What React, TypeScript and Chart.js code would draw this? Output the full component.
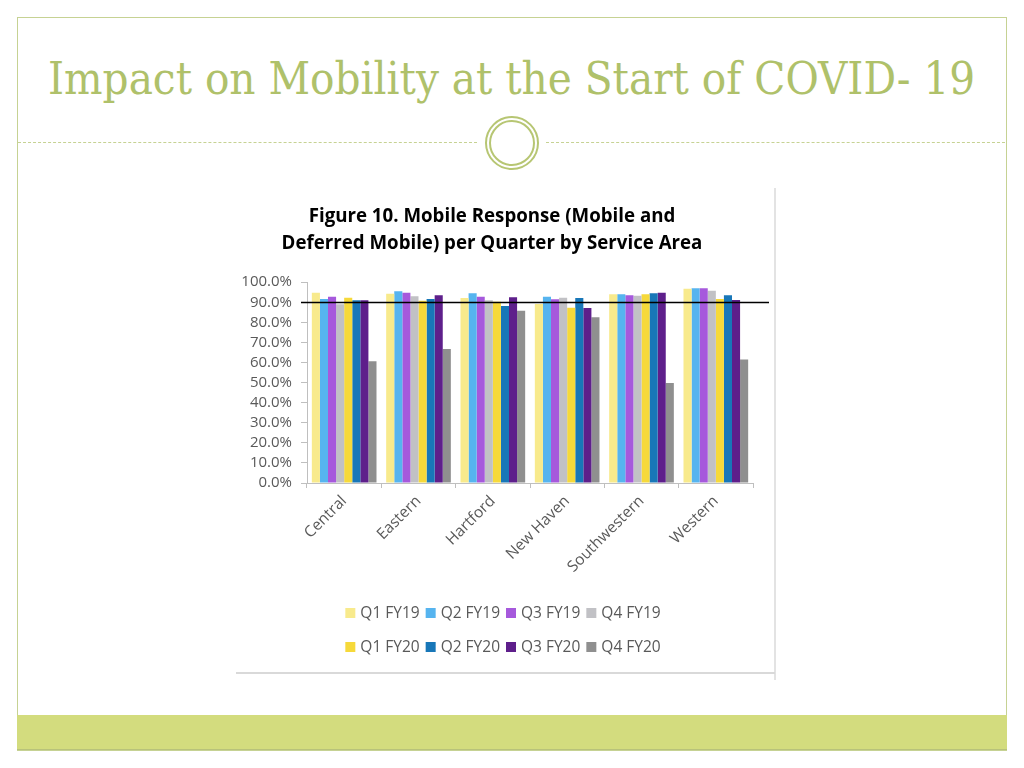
import React, { useEffect, useRef, useLayoutEffect } from "react";
import { Chart, registerables } from "chart.js";

Chart.register(...registerables);

const categories = ["Central", "Eastern", "Hartford", "New Haven", "Southwestern", "Western"];
const seriesLabels = ["Q1 FY19", "Q2 FY19", "Q3 FY19", "Q4 FY19", "Q1 FY20", "Q2 FY20", "Q3 FY20", "Q4 FY20"];
const q1fy19 = [94.8, 94.2, 92.2, 89.2, 94.0, 96.7];
const q2fy19 = [91.7, 95.5, 94.5, 92.8, 94.0, 97.0];
const q3fy19 = [92.8, 94.8, 92.8, 91.5, 93.5, 97.0];
const q4fy19 = [89.0, 93.0, 91.0, 92.3, 93.3, 95.7];
const q1fy20 = [92.3, 90.8, 90.3, 87.3, 94.0, 91.7];
const q2fy20 = [91.0, 91.7, 88.2, 92.2, 94.5, 93.5];
const q3fy20 = [91.0, 93.5, 92.5, 87.2, 94.8, 91.2];
const q4fy20 = [60.7, 66.8, 85.8, 82.5, 49.8, 61.5];
const targetValue = 90;
const seriesColors = ["#f8ea8c", "#56b4ef", "#a659dc", "#c1c1c5", "#f6d93a", "#1877b8", "#5e1f8b", "#8f8f8f"];
const chartTitle = ["Figure 10. Mobile Response (Mobile and", "Deferred Mobile) per Quarter by Service Area"];
const slideTitle = "Impact on Mobility at the Start of COVID- 19";

const FONT = "'Open Sans', 'Noto Sans', sans-serif";

const targetLinePlugin = {
  id: "targetLine",
  afterDatasetsDraw(chart: any) {
    const { ctx, chartArea, scales } = chart;
    const y = Math.round(scales.y.getPixelForValue(targetValue)) + 0.5;
    ctx.save();
    ctx.strokeStyle = "#000000";
    ctx.lineWidth = 1.5;
    ctx.beginPath();
    ctx.moveTo(chartArea.left - 6, y);
    ctx.lineTo(chartArea.right + 16, y);
    ctx.stroke();
    ctx.restore();
  },
};

const customLegendPlugin = {
  id: "customLegend",
  afterDraw(chart: any) {
    const { ctx, width } = chart;
    const ds = chart.data.datasets;
    ctx.save();
    ctx.font = `15.5px ${FONT}`;
    ctx.textBaseline = "middle";
    const rows = [ds.slice(0, 4), ds.slice(4, 8)];
    const rowY = [425, 459];
    const box = 10;
    const gapBox = 5;
    const gapItem = 6;
    rows.forEach((row: any[], ri: number) => {
      const widths = row.map((d) => box + gapBox + ctx.measureText(d.label).width);
      const total = widths.reduce((a, b) => a + b, 0) + gapItem * (row.length - 1);
      let x = width / 2 - total / 2;
      row.forEach((d, i) => {
        ctx.fillStyle = d.backgroundColor;
        ctx.fillRect(x, rowY[ri] - box / 2, box, box);
        ctx.fillStyle = "#595959";
        ctx.fillText(d.label, x + box + gapBox, rowY[ri] + 1);
        x += widths[i] + gapItem;
      });
    });
    ctx.restore();
  },
};

function BarChart() {
  const ref = useRef<HTMLCanvasElement>(null);
  useEffect(() => {
    const values = [q1fy19, q2fy19, q3fy19, q4fy19, q1fy20, q2fy20, q3fy20, q4fy20];
    const chart = new Chart(ref.current as HTMLCanvasElement, {
      type: "bar",
      data: {
        labels: categories,
        datasets: values.map((v, i) => ({
          label: seriesLabels[i],
          data: v,
          backgroundColor: seriesColors[i],
          borderWidth: 0,
          categoryPercentage: 0.87,
          barPercentage: 1.0,
        })),
      },
      options: {
        animation: false,
        responsive: false,
        maintainAspectRatio: false,
        layout: { padding: { top: 0, left: 0, right: 22, bottom: 90 } },
        plugins: {
          legend: { display: false },
          tooltip: { enabled: false },
          title: {
            display: true,
            text: chartTitle,
            color: "#000000",
            font: { family: FONT, size: 18.7, weight: "bold", lineHeight: 1.45 },
            padding: { top: 15, bottom: 25 },
          },
        },
        scales: {
          x: {
            grid: { display: true, drawOnChartArea: false, drawTicks: true, tickLength: 5, color: "#bfbfbf" },
            border: { display: true, color: "#bfbfbf" },
            ticks: {
              color: "#595959",
              font: { family: FONT, size: 15.5 },
              minRotation: 45,
              maxRotation: 45,
              padding: 4,
            },
            afterFit: (s: any) => {
              s.height = 100;
            },
          },
          y: {
            min: 0,
            max: 100,
            grid: { display: true, drawOnChartArea: false, drawTicks: true, tickLength: 6, color: "#bfbfbf" },
            border: { display: true, color: "#bfbfbf" },
            ticks: {
              stepSize: 10,
              autoSkip: false,
              color: "#595959",
              font: { family: FONT, size: 15, lineHeight: 1 },
              padding: 9,
              callback: (v: any) => Number(v).toFixed(1) + "%",
            },
            afterFit: (s: any) => {
              s.width = 76;
            },
          },
        },
      },
      plugins: [targetLinePlugin, customLegendPlugin],
    });
    return () => chart.destroy();
  }, []);
  return <canvas ref={ref} width={544} height={485} style={{ display: "block", width: 544, height: 485 }} />;
}

export default function App() {
  const titleRef = useRef<HTMLSpanElement>(null);
  useLayoutEffect(() => {
    const el = titleRef.current;
    if (el) {
      const w = el.offsetWidth;
      if (w > 0) el.style.transform = `scaleX(${927 / w})`;
    }
  }, []);
  const green = "#c6d293";
  return (
    <div style={{ position: "fixed", left: 0, top: 0, width: 1024, height: 768, background: "#ffffff", overflow: "hidden" }}>
      <div style={{ position: "absolute", left: 17, top: 17, width: 988, height: 732, border: `1px solid ${green}` }} />
      <div style={{ position: "absolute", left: 48, top: 49, width: 927, height: 60, whiteSpace: "nowrap" }}>
        <span
          ref={titleRef}
          style={{
            display: "inline-block",
            transformOrigin: "left top",
            fontFamily: "'DejaVu Serif Condensed', 'DejaVu Serif', serif",
            fontStretch: "condensed",
            fontSize: 45,
            lineHeight: "60px",
            color: "#afc16a",
          }}
        >
          {slideTitle}
        </span>
      </div>
      <div style={{ position: "absolute", left: 18, top: 142, width: 459, height: 0, borderTop: `1px dashed ${green}` }} />
      <div style={{ position: "absolute", left: 546, top: 142, width: 459, height: 0, borderTop: `1px dashed ${green}` }} />
      <div
        style={{
          position: "absolute",
          left: 485,
          top: 116,
          width: 50,
          height: 50,
          borderRadius: "50%",
          border: "2px solid #b7c673",
          background: "#ffffff",
        }}
      />
      <div
        style={{
          position: "absolute",
          left: 489,
          top: 120,
          width: 42,
          height: 42,
          borderRadius: "50%",
          border: "2px solid #b7c673",
        }}
      />
      <div style={{ position: "absolute", left: 231, top: 188 }}>
        <BarChart />
      </div>
      <div style={{ position: "absolute", left: 774, top: 188, width: 2, height: 492, background: "#e3e3e3" }} />
      <div style={{ position: "absolute", left: 236, top: 672, width: 539, height: 2, background: "#d9d9d9" }} />
      <div
        style={{
          position: "absolute",
          left: 17,
          top: 715,
          width: 990,
          height: 35,
          background: "#d3dc7e",
          borderBottom: "1px solid #b8c27a",
          boxSizing: "border-box",
        }}
      />
    </div>
  );
}
